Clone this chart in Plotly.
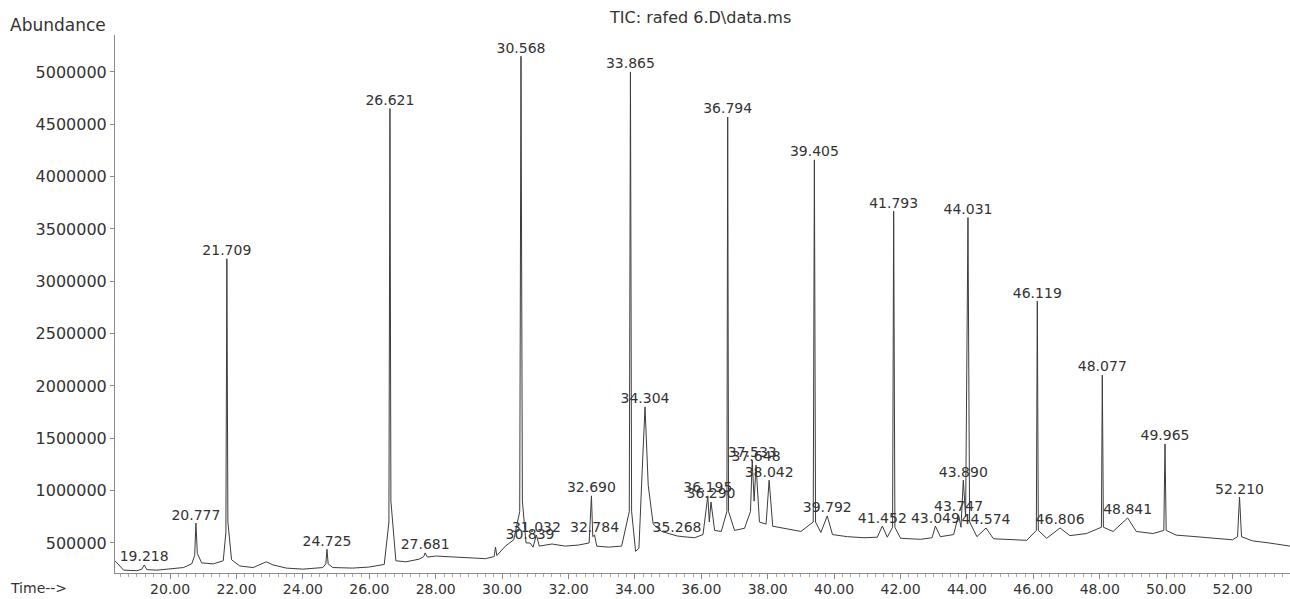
import plotly.graph_objects as go

# ---- data (time in minutes, abundance in counts) ----
time_min = [
    18.34, 18.6, 19.0, 19.15, 19.218, 19.3, 19.6, 20.0, 20.4, 20.65,
    20.74, 20.777, 20.82, 20.95, 21.3, 21.6, 21.68, 21.709, 21.74, 21.85,
    22.1, 22.5, 22.9, 23.1, 23.5, 24.0, 24.6, 24.69, 24.725, 24.76,
    24.9, 25.5, 26.0, 26.45, 26.59, 26.621, 26.65, 26.8, 27.1, 27.5,
    27.64, 27.681, 27.75, 28.0, 28.5, 29.0, 29.5, 29.76, 29.8, 29.84,
    30.1, 30.35, 30.53, 30.568, 30.61, 30.72, 30.839, 30.93, 31.032, 31.12,
    31.5, 31.9, 32.3, 32.62, 32.69, 32.73, 32.784, 32.85, 33.2, 33.6,
    33.83, 33.865, 33.9, 34.02, 34.12, 34.22, 34.304, 34.4, 34.55, 34.8,
    35.1, 35.268, 35.45, 35.8, 36.05, 36.195, 36.24, 36.29, 36.4, 36.6,
    36.77, 36.794, 36.82, 37.0, 37.3, 37.48, 37.533, 37.59, 37.648, 37.75,
    37.95, 38.042, 38.15, 38.5, 39.0, 39.37, 39.405, 39.44, 39.6, 39.792,
    39.95, 40.4, 40.9, 41.3, 41.452, 41.6, 41.76, 41.793, 41.83, 42.0,
    42.6, 42.95, 43.049, 43.2, 43.6, 43.747, 43.82, 43.89, 43.96, 44.031,
    44.08, 44.3, 44.574, 44.8, 45.3, 45.8, 46.09, 46.119, 46.15, 46.4,
    46.806, 47.1, 47.6, 48.05, 48.077, 48.11, 48.4, 48.841, 49.1, 49.6,
    49.93, 49.965, 50.0, 50.3, 50.9, 51.5, 52.0, 52.15, 52.21, 52.27,
    52.6, 53.1, 53.73,
]
abundance = [
    330000, 240000, 235000, 250000, 290000, 245000, 240000, 250000, 265000, 300000,
    380000, 690000, 400000, 310000, 300000, 330000, 600000, 3215000, 700000, 340000,
    280000, 265000, 320000, 290000, 260000, 250000, 265000, 300000, 440000, 300000,
    265000, 260000, 270000, 295000, 700000, 4650000, 900000, 330000, 320000, 345000,
    370000, 405000, 365000, 375000, 365000, 355000, 350000, 370000, 460000, 380000,
    470000, 530000, 800000, 5150000, 900000, 500000, 500000, 460000, 576000, 470000,
    490000, 470000, 480000, 500000, 950000, 560000, 576000, 470000, 460000, 470000,
    800000, 5000000, 800000, 420000, 450000, 1200000, 1800000, 1050000, 680000, 610000,
    580000, 567000, 560000, 550000, 580000, 950000, 700000, 892000, 620000, 610000,
    800000, 4570000, 800000, 620000, 640000, 800000, 1290000, 900000, 1245000, 700000,
    680000, 1100000, 660000, 640000, 610000, 700000, 4160000, 700000, 600000, 758000,
    580000, 560000, 550000, 555000, 662000, 555000, 650000, 3670000, 650000, 545000,
    535000, 550000, 662000, 560000, 580000, 768000, 650000, 1100000, 750000, 3610000,
    700000, 560000, 643000, 540000, 530000, 525000, 620000, 2810000, 620000, 545000,
    643000, 570000, 590000, 650000, 2105000, 650000, 610000, 739000, 610000, 590000,
    620000, 1446000, 620000, 575000, 560000, 545000, 530000, 560000, 939000, 560000,
    520000, 500000, 470000,
]
assert len(time_min) == len(abundance)

peak_rt = [
    19.218, 20.777, 21.709, 24.725, 26.621, 27.681, 30.568, 30.839, 31.032, 32.690,
    32.784, 33.865, 34.304, 35.268, 36.195, 36.290, 36.794, 37.533, 37.648, 38.042,
    39.405, 39.792, 41.452, 41.793, 43.049, 43.747, 43.890, 44.031, 44.574, 46.119,
    46.806, 48.077, 48.841, 49.965, 52.210,
]
peak_abund = [
    290000, 690000, 3215000, 440000, 4650000, 405000, 5150000, 500000, 576000, 950000,
    576000, 5000000, 1800000, 567000, 950000, 892000, 4570000, 1290000, 1245000, 1100000,
    4160000, 758000, 662000, 3670000, 662000, 768000, 1100000, 3610000, 643000, 2810000,
    643000, 2105000, 739000, 1446000, 939000,
]
peak_labels = [f"{rt:.3f}" for rt in peak_rt]

x_ticks = [20, 22, 24, 26, 28, 30, 32, 34, 36, 38, 40, 42, 44, 46, 48, 50, 52]
y_ticks = [500000, 1000000, 1500000, 2000000, 2500000, 3000000, 3500000,
           4000000, 4500000, 5000000]

FONT = "DejaVu Sans"
TXT = "#333333"

fig = go.Figure()
fig.add_trace(go.Scatter(
    x=time_min, y=abundance, mode="lines",
    line=dict(color="#3c3c3c", width=1),
    hoverinfo="skip", showlegend=False,
))
fig.add_trace(go.Scatter(
    x=peak_rt, y=peak_abund, mode="text", text=peak_labels,
    textposition="top center",
    textfont=dict(family=FONT, size=14, color=TXT),
    cliponaxis=False, showlegend=False, hoverinfo="skip",
))

fig.update_layout(
    width=1290, height=599,
    margin=dict(l=115, r=0, t=35, b=26),
    paper_bgcolor="white", plot_bgcolor="white",
    font=dict(family=FONT, color=TXT),
    xaxis=dict(
        range=[18.34, 53.73], showgrid=False, zeroline=False,
        showline=True, linecolor="#8a8a8a", linewidth=1,
        tickvals=x_ticks, tickformat=".2f", ticks="outside", ticklen=5,
        tickcolor="#8a8a8a", tickfont=dict(family=FONT, size=14, color=TXT),
        ticklabelstandoff=-2,
        minor=dict(dtick=0.25, ticks="outside", ticklen=3, tickcolor="#aaaaaa"),
    ),
    yaxis=dict(
        range=[213000, 5353000], showgrid=False, zeroline=False,
        showline=True, linecolor="#8a8a8a", linewidth=1,
        tickvals=y_ticks, tickformat="d", ticks="outside", ticklen=4,
        tickcolor="#8a8a8a", tickfont=dict(family=FONT, size=16, color=TXT),
    ),
    annotations=[
        dict(text="Abundance", xref="paper", yref="paper", x=-0.091, y=1.0186,
             xanchor="left", yanchor="middle", showarrow=False,
             font=dict(family=FONT, size=17, color=TXT)),
        dict(text="Time-->", xref="paper", yref="paper", x=-0.091, y=-0.0279,
             xanchor="left", yanchor="middle", showarrow=False,
             font=dict(family=FONT, size=14, color=TXT)),
        dict(text="TIC: rafed 6.D\\data.ms", xref="paper", yref="paper", x=0.498,
             y=1.0316, xanchor="center", yanchor="middle", showarrow=False,
             font=dict(family=FONT, size=16, color=TXT)),
    ],
)

fig.write_html(
    "out.html",
    config={"displayModeBar": False},
    post_script="document.body.style.margin='0';document.body.style.overflow='hidden';",
)
